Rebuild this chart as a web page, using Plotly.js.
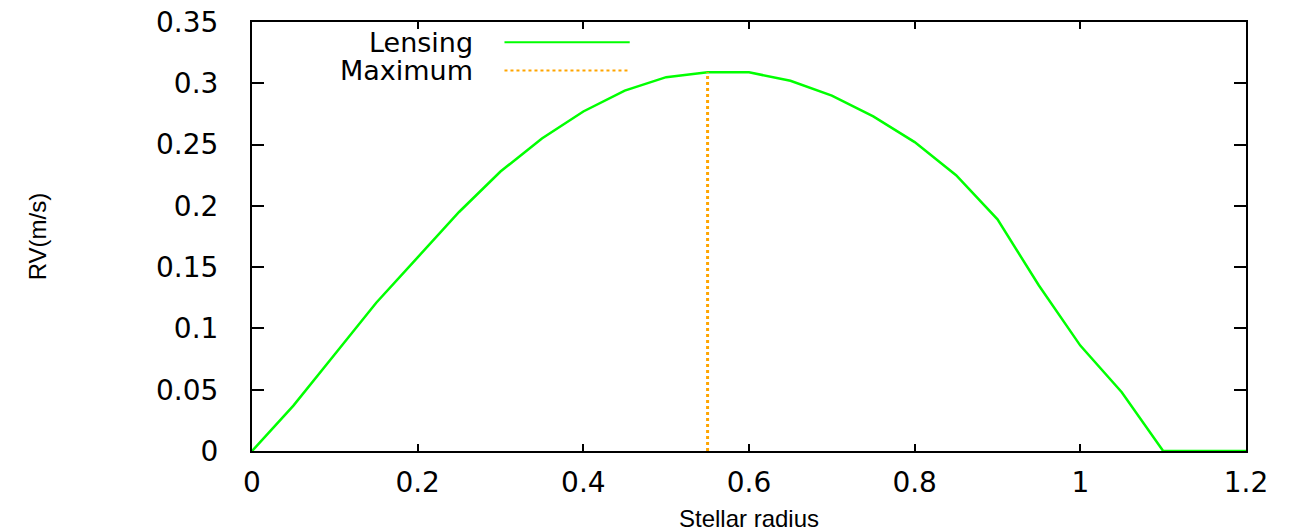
<!DOCTYPE html>
<html>
<head>
<meta charset="utf-8">
<script src="https://cdn.plot.ly/plotly-3.0.1.min.js"></script>
<style>html,body{margin:0;padding:0;background:#fff;}#chart{width:1294px;height:532px;}</style>
</head>
<body>
<div id="chart"></div>
<script>
// Stellar radius values (x) and lensing RV (m/s)
const radius = [0, 0.05, 0.1, 0.15, 0.2, 0.25, 0.3, 0.35, 0.4, 0.45, 0.5, 0.55, 0.6, 0.65, 0.7, 0.75, 0.8, 0.85, 0.9, 0.95, 1.0, 1.05, 1.1, 1.15, 1.2];
const lensingRV = [0, 0.037, 0.079, 0.121, 0.158, 0.195, 0.228, 0.255, 0.277, 0.294, 0.305, 0.309, 0.309, 0.302, 0.290, 0.273, 0.252, 0.225, 0.189, 0.135, 0.086, 0.048, 0, 0, 0];
// Maximum marker
const maxX = [0.55, 0.55];
const maxY = [0, 0.309];
const seriesNames = ["Lensing", "Maximum"];
const xTitle = "Stellar radius";
const yTitle = "RV(m/s)";

const green = "#00ff00";
const orange = "#ffa500";

const traces = [
  {x: radius, y: lensingRV, mode: "lines", name: seriesNames[0],
   line: {color: green, width: 2.5}, showlegend: false, cliponaxis: false},
  {x: maxX, y: maxY, mode: "lines", name: seriesNames[1],
   line: {color: orange, width: 3, dash: "dot"}, showlegend: false}
];

// gnuplot-style legend (text right-aligned, sample line to the right)
const legendRows = [
  {text: seriesNames[0], y: 0.953, color: green, dash: "solid"},
  {text: seriesNames[1], y: 0.887, color: orange, dash: "dot"}
];
const annotations = legendRows.map(r => ({
  xref: "paper", yref: "paper", x: 0.224, y: r.y, xanchor: "right", yanchor: "middle",
  text: r.text, showarrow: false, font: {family: "DejaVu Sans, sans-serif", size: 27, color: "#000"}
}));
const shapes = legendRows.map(r => ({
  type: "line", xref: "paper", yref: "paper", x0: 0.254, x1: 0.380, y0: r.y, y1: r.y,
  line: {color: r.color, width: 2, dash: r.dash}
}));

const layout = {
  width: 1294, height: 532,
  margin: {l: 252, r: 48, t: 22, b: 81, pad: 0},
  paper_bgcolor: "#fff", plot_bgcolor: "#fff",
  showlegend: false,
  xaxis: {
    range: [0, 1.2], dtick: 0.2, tick0: 0,
    showgrid: false, zeroline: false,
    showline: true, linecolor: "#000", linewidth: 2, mirror: "ticks",
    ticks: "inside", ticklen: 7, tickwidth: 2, tickcolor: "#000",
    ticklabelstandoff: 5,
    tickfont: {family: "DejaVu Sans, sans-serif", size: 28, color: "#000"},
    title: {text: xTitle, standoff: 13, font: {family: "Liberation Sans, Arial, sans-serif", size: 24, color: "#000"}},
    automargin: false, layer: "below traces"
  },
  yaxis: {
    range: [0, 0.35], dtick: 0.05, tick0: 0,
    showgrid: false, zeroline: false,
    showline: true, linecolor: "#000", linewidth: 2, mirror: "ticks",
    ticks: "inside", ticklen: 12, tickwidth: 2, tickcolor: "#000",
    ticklabelstandoff: 26,
    tickfont: {family: "DejaVu Sans, sans-serif", size: 28, color: "#000"},
    title: {text: yTitle, standoff: 103, font: {family: "Liberation Sans, Arial, sans-serif", size: 24, color: "#000"}},
    automargin: false, layer: "below traces"
  },
  annotations: annotations,
  shapes: shapes
};

Plotly.newPlot("chart", traces, layout, {displayModeBar: false, staticPlot: true});
</script>
</body>
</html>
